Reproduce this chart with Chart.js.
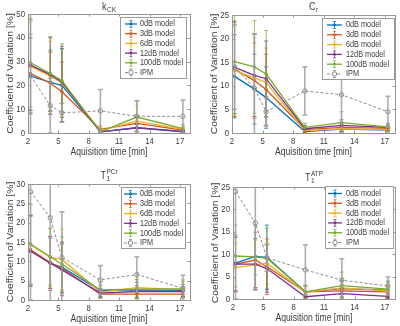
<!DOCTYPE html>
<html><head><meta charset="utf-8">
<script src="https://cdn.jsdelivr.net/npm/chart.js@4.4.1/dist/chart.umd.min.js"></script>
<style>
html,body{margin:0;padding:0;background:#fff;width:400px;height:326px;overflow:hidden}
.p{position:absolute;width:200px;height:163px}
canvas{display:block}
</style></head><body>
<div class="p" style="left:0;top:0"><canvas id="c1" width="200" height="163"></canvas></div>
<div class="p" style="left:200px;top:0"><canvas id="c2" width="200" height="163"></canvas></div>
<div class="p" style="left:0;top:163px"><canvas id="c3" width="200" height="163"></canvas></div>
<div class="p" style="left:200px;top:163px"><canvas id="c4" width="200" height="163"></canvas></div>
<script>
// ---------- DATA ----------
const times = [2.25, 4.2, 5.35, 9.15, 12.75, 17.3];
const seriesNames = ['0dB model', '3dB model', '6dB model', '12dB model', '100dB model', 'IPM'];
const xTicks = [2, 5, 8, 11, 14, 17];
const xAxisTitle = 'Aquisition time [min]';
const yAxisTitle = 'Coefficient of Variation [%]';

// k_CK
const yTicks_kCK = [0, 10, 20, 30, 40, 50];
const kCK_mean = [
  [24.0, 21.3, 20.0, 0.5, 2.2, 0.5],
  [25.0, 21.0, 17.3, 1.5, 4.0, 1.2],
  [28.0, 24.0, 21.0, 1.0, 5.0, 1.5],
  [28.5, 24.5, 21.5, 0.5, 2.2, 0.7],
  [29.5, 25.0, 22.0, 0.5, 6.7, 1.8],
  [24.0, 11.5, 8.5, 9.3, 7.0, 7.0]
];
const kCK_err = [
  [16.0, 13.5, 15.5, 1.0, 1.5, 0.6],
  [16.5, 13.0, 12.5, 1.5, 3.5, 1.2],
  [18.5, 14.5, 14.0, 1.2, 6.5, 1.5],
  [19.0, 15.5, 15.0, 0.8, 1.5, 0.6],
  [18.5, 15.5, 15.5, 1.0, 7.0, 1.7],
  [28.0, 11.5, 4.0, 9.0, 6.5, 6.8]
];
// C_r
const yTicks_Cr = [0, 5, 10, 15, 20, 25];
const Cr_mean = [
  [12.0, 9.3, 7.5, 0.3, 0.8, 0.6],
  [13.5, 11.1, 9.2, 0.7, 1.2, 1.0],
  [13.2, 11.7, 10.7, 0.5, 0.9, 0.7],
  [13.9, 12.2, 11.5, 0.9, 1.6, 1.2],
  [15.1, 14.0, 12.5, 1.2, 2.2, 1.3],
  [14.0, 9.5, 4.5, 8.9, 8.1, 4.5]
];
const Cr_err = [
  [8.8, 7.4, 6.5, 0.4, 0.5, 0.4],
  [10.0, 8.0, 7.5, 0.6, 0.8, 0.6],
  [9.5, 8.5, 7.3, 0.5, 0.7, 0.5],
  [9.8, 8.7, 8.0, 0.7, 1.2, 0.7],
  [11.0, 9.8, 9.2, 0.9, 2.3, 0.8],
  [9.0, 11.5, 3.0, 5.1, 8.0, 3.3]
];
// T1 PCr
const yTicks_T1PCr = [0, 5, 10, 15, 20, 25, 30];
const T1PCr_mean = [
  [12.8, 9.5, 8.5, 2.4, 2.6, 2.5],
  [13.0, 9.7, 8.2, 1.5, 1.5, 1.5],
  [14.3, 11.0, 10.5, 2.0, 3.2, 2.7],
  [12.6, 9.5, 7.8, 1.8, 2.2, 2.2],
  [14.5, 11.2, 9.3, 2.6, 2.8, 2.9],
  [28.0, 21.3, 11.0, 5.2, 6.6, 3.0]
];
const T1PCr_err = [
  [9.0, 6.5, 6.5, 1.5, 2.0, 1.5],
  [9.0, 6.7, 6.6, 1.0, 1.2, 1.0],
  [10.4, 7.6, 7.8, 1.5, 2.8, 2.0],
  [9.1, 7.0, 6.7, 1.2, 1.5, 1.3],
  [10.3, 7.3, 7.0, 2.0, 2.5, 2.3],
  [28.0, 22.0, 11.8, 3.7, 4.6, 3.4]
];
// T1 ATP
const yTicks_T1ATP = [0, 5, 10, 15, 20, 25];
const T1ATP_mean = [
  [8.0, 9.5, 9.3, 1.6, 2.3, 2.0],
  [7.8, 8.7, 7.2, 1.6, 1.8, 1.6],
  [7.0, 7.6, 8.0, 1.5, 2.5, 1.8],
  [7.8, 7.8, 6.8, 0.5, 1.2, 0.6],
  [9.6, 9.4, 9.1, 1.6, 3.0, 2.2],
  [24.0, 17.0, 9.2, 6.5, 4.2, 2.9]
];
const T1ATP_err = [
  [6.3, 7.0, 7.2, 1.3, 1.8, 2.0],
  [6.0, 6.2, 6.2, 1.3, 1.5, 1.3],
  [5.5, 5.5, 4.7, 1.3, 2.2, 1.5],
  [6.0, 5.7, 5.3, 0.6, 1.2, 0.6],
  [6.9, 4.0, 6.7, 1.5, 3.0, 1.5],
  [24.0, 15.0, 3.0, 5.6, 4.8, 2.0]
];

// ---------- STYLE ----------
const seriesColors = ['#0072BD', '#D95319', '#EDB120', '#7E2F8E', '#77AC30', '#8c8c8c'];
const errColors = ['rgba(0,114,189,0.75)', 'rgba(217,83,25,0.75)', 'rgba(237,177,32,0.75)',
                   'rgba(126,47,142,0.75)', 'rgba(119,172,48,0.75)', 'rgba(150,150,150,0.75)'];
const FONT = '"Liberation Sans", Arial, Helvetica, sans-serif';
const TXT = '#3c3c3c';
const FRAME = '#969696';
const SY = 1.2;

function txt(ctx, s, x, y, size, align, rot) {
  ctx.save();
  ctx.translate(x, y);
  if (rot) { ctx.rotate(-Math.PI / 2); ctx.scale(SY, 1); } else { ctx.scale(1, SY); }
  ctx.font = size + 'px ' + FONT;
  ctx.textAlign = align;
  ctx.textBaseline = 'middle';
  ctx.fillStyle = TXT;
  ctx.fillText(s, 0, 0);
  ctx.restore();
}

function makePanel(cfg) {
  const A = cfg.area;
  const datasets = seriesNames.map((name, i) => ({
    label: name,
    data: times.map((t, j) => ({ x: t, y: cfg.mean[i][j] })),
    errors: cfg.err[i],
    borderColor: seriesColors[i],
    backgroundColor: seriesColors[i],
    borderWidth: i < 5 ? 1.3 : 1,
    borderDash: i < 5 ? [] : [3, 2],
    pointRadius: i < 5 ? 1.3 : 2.2,
    pointBackgroundColor: i < 5 ? seriesColors[i] : 'rgba(255,255,255,0)',
    pointBorderColor: seriesColors[i],
    pointBorderWidth: 1,
    tension: 0,
    order: -i
  }));
  const yMax = cfg.yTicks[cfg.yTicks.length - 1];

  const decor = {
    id: 'decor',
    afterDatasetDraw(chart, args) {
      const ds = chart.data.datasets[args.index];
      const ys = chart.scales.y;
      const ca = chart.chartArea;
      const ctx = chart.ctx;
      const isIPM = args.index === 5;
      ctx.save();
      ctx.beginPath();
      ctx.rect(ca.left, ca.top, ca.right - ca.left, ca.bottom - ca.top);
      ctx.clip();
      ctx.strokeStyle = isIPM ? 'rgba(160,160,160,0.85)' : errColors[args.index];
      ctx.lineWidth = isIPM ? 1.6 : 1;
      const cap = isIPM ? 2.5 : 2;
      args.meta.data.forEach((pt, j) => {
        const m = ds.data[j].y, e = ds.errors[j];
        const y1 = ys.getPixelForValue(m + e), y2 = ys.getPixelForValue(m - e);
        const x = pt.x;
        ctx.beginPath();
        ctx.moveTo(x, y1); ctx.lineTo(x, y2);
        ctx.moveTo(x - cap, y1); ctx.lineTo(x + cap, y1);
        ctx.moveTo(x - cap, y2); ctx.lineTo(x + cap, y2);
        ctx.stroke();
      });
      ctx.restore();
    },
    afterDraw(chart) {
      const ctx = chart.ctx;
      const ca = chart.chartArea;
      const xs = chart.scales.x, ys = chart.scales.y;
      // frame
      ctx.save();
      ctx.strokeStyle = FRAME;
      ctx.lineWidth = 1;
      ctx.strokeRect(Math.round(ca.left) + 0.5, Math.round(ca.top) + 0.5,
                     Math.round(ca.right - ca.left), Math.round(ca.bottom - ca.top));
      // inward ticks
      ctx.beginPath();
      xs.ticks.forEach(t => {
        const x = Math.round(xs.getPixelForValue(t.value)) + 0.5;
        ctx.moveTo(x, ca.bottom); ctx.lineTo(x, ca.bottom - 2.5);
        ctx.moveTo(x, ca.top); ctx.lineTo(x, ca.top + 2.5);
      });
      ys.ticks.forEach(t => {
        const y = Math.round(ys.getPixelForValue(t.value)) + 0.5;
        ctx.moveTo(ca.left, y); ctx.lineTo(ca.left + 2.5, y);
        ctx.moveTo(ca.right, y); ctx.lineTo(ca.right - 2.5, y);
      });
      ctx.stroke();
      ctx.restore();
      // tick labels
      xs.ticks.forEach(t => txt(ctx, String(t.value), xs.getPixelForValue(t.value), ca.bottom + 8, 7.8, 'center'));
      ys.ticks.forEach(t => txt(ctx, String(t.value), ca.left - 3, ys.getPixelForValue(t.value), 7.8, 'right'));
      // axis titles
      txt(ctx, xAxisTitle, (ca.left + ca.right) / 2, ca.bottom + 19.5, 8.6, 'center');
      txt(ctx, yAxisTitle, ca.left - 17, (ca.top + ca.bottom) / 2, 8.6, 'center', true);
      // panel title with sub/superscripts
      const T = cfg.title;
      ctx.save();
      ctx.font = '9px ' + FONT;
      const wb = ctx.measureText(T.base).width;
      ctx.font = '6.5px ' + FONT;
      const wsub = T.sub ? ctx.measureText(T.sub).width : 0;
      const wsup = T.sup ? ctx.measureText(T.sup).width : 0;
      ctx.restore();
      const tw = wb + Math.max(wsub, wsup) + 0.5;
      const tx = (ca.left + ca.right) / 2 - tw / 2;
      const ty = ca.top - cfg.titleOff;
      txt(ctx, T.base, tx, ty, 9, 'left');
      if (T.sub) txt(ctx, T.sub, tx + wb + 0.5, ty + 2.8, 6.5, 'left');
      if (T.sup) txt(ctx, T.sup, tx + wb + 0.5, ty - 4, 6.5, 'left');
      // legend
      const L = cfg.legend;
      ctx.save();
      ctx.fillStyle = '#ffffff';
      ctx.fillRect(L.x, L.y, L.w, L.h);
      ctx.strokeStyle = '#999999';
      ctx.lineWidth = 1;
      ctx.strokeRect(L.x + 0.5, L.y + 0.5, L.w, L.h);
      ctx.restore();
      seriesNames.forEach((name, i) => {
        const cy = L.y + L.first + i * L.step;
        const x1 = L.x + L.ls, x2 = L.x + L.le, xm = (x1 + x2) / 2;
        ctx.save();
        ctx.strokeStyle = seriesColors[i];
        ctx.lineWidth = i < 5 ? 1.3 : 1;
        ctx.setLineDash(i < 5 ? [] : [3, 2]);
        ctx.beginPath(); ctx.moveTo(x1, cy); ctx.lineTo(x2, cy); ctx.stroke();
        ctx.setLineDash([]);
        ctx.strokeStyle = i < 5 ? errColors[i] : 'rgba(150,150,150,0.9)';
        ctx.lineWidth = 1;
        ctx.beginPath();
        ctx.moveTo(xm, cy - 3.5); ctx.lineTo(xm, cy + 3.5);
        ctx.moveTo(xm - 1.5, cy - 3.5); ctx.lineTo(xm + 1.5, cy - 3.5);
        ctx.moveTo(xm - 1.5, cy + 3.5); ctx.lineTo(xm + 1.5, cy + 3.5);
        ctx.stroke();
        ctx.beginPath();
        ctx.arc(xm, cy, i < 5 ? 1.4 : 2.2, 0, Math.PI * 2);
        if (i < 5) { ctx.fillStyle = seriesColors[i]; ctx.fill(); }
        else { ctx.fillStyle = '#fff'; ctx.fill(); ctx.strokeStyle = seriesColors[i]; ctx.stroke(); }
        ctx.restore();
        txt(ctx, name, L.x + L.tx, cy, 7.3, 'left');
      });
    }
  };

  return new Chart(document.getElementById(cfg.id), {
    type: 'line',
    data: { datasets },
    options: {
      responsive: false,
      devicePixelRatio: 1,
      animation: false,
      events: [],
      layout: { padding: { left: 0, right: 200 - A.R, top: A.T, bottom: 0 } },
      plugins: { legend: { display: false }, title: { display: false }, tooltip: { enabled: false } },
      scales: {
        x: {
          type: 'linear', min: 2, max: 18,
          afterBuildTicks: s => { s.ticks = xTicks.map(v => ({ value: v })); },
          afterFit: s => { s.height = 163 - A.B; },
          grid: { display: false }, border: { display: false }, ticks: { display: false }
        },
        y: {
          type: 'linear', min: 0, max: yMax,
          afterBuildTicks: s => { s.ticks = cfg.yTicks.map(v => ({ value: v })); },
          afterFit: s => { s.width = A.L; },
          grid: { display: false }, border: { display: false }, ticks: { display: false }
        }
      }
    },
    plugins: [decor]
  });
}

makePanel({ id: 'c1', title: { base: 'k', sub: 'CK' }, mean: kCK_mean, err: kCK_err, yTicks: yTicks_kCK,
  area: { L: 28, R: 190, T: 14, B: 133 }, titleOff: 7,
  legend: { x: 120, y: 17, w: 66, h: 61, first: 7, step: 9.7, ls: 5, le: 17, tx: 20 } });
makePanel({ id: 'c2', title: { base: 'C', sub: 'r' }, mean: Cr_mean, err: Cr_err, yTicks: yTicks_Cr,
  area: { L: 32, R: 195, T: 15, B: 133 }, titleOff: 8,
  legend: { x: 122, y: 18, w: 72, h: 61, first: 7, step: 9.8, ls: 5, le: 20, tx: 24 } });
makePanel({ id: 'c3', title: { base: 'T', sub: '1', sup: 'PCr' }, mean: T1PCr_mean, err: T1PCr_err, yTicks: yTicks_T1PCr,
  area: { L: 28, R: 190, T: 21, B: 137 }, titleOff: 8,
  legend: { x: 121, y: 24, w: 64, h: 61, first: 7, step: 9.8, ls: 3, le: 16, tx: 19 } });
makePanel({ id: 'c4', title: { base: 'T', sub: '1', sup: 'ATP' }, mean: T1ATP_mean, err: T1ATP_err, yTicks: yTicks_T1ATP,
  area: { L: 33, R: 195, T: 24, B: 136 }, titleOff: 9,
  legend: { x: 125, y: 23, w: 68, h: 62, first: 7.5, step: 9.8, ls: 3, le: 17, tx: 21 } });
</script>
</body></html>
